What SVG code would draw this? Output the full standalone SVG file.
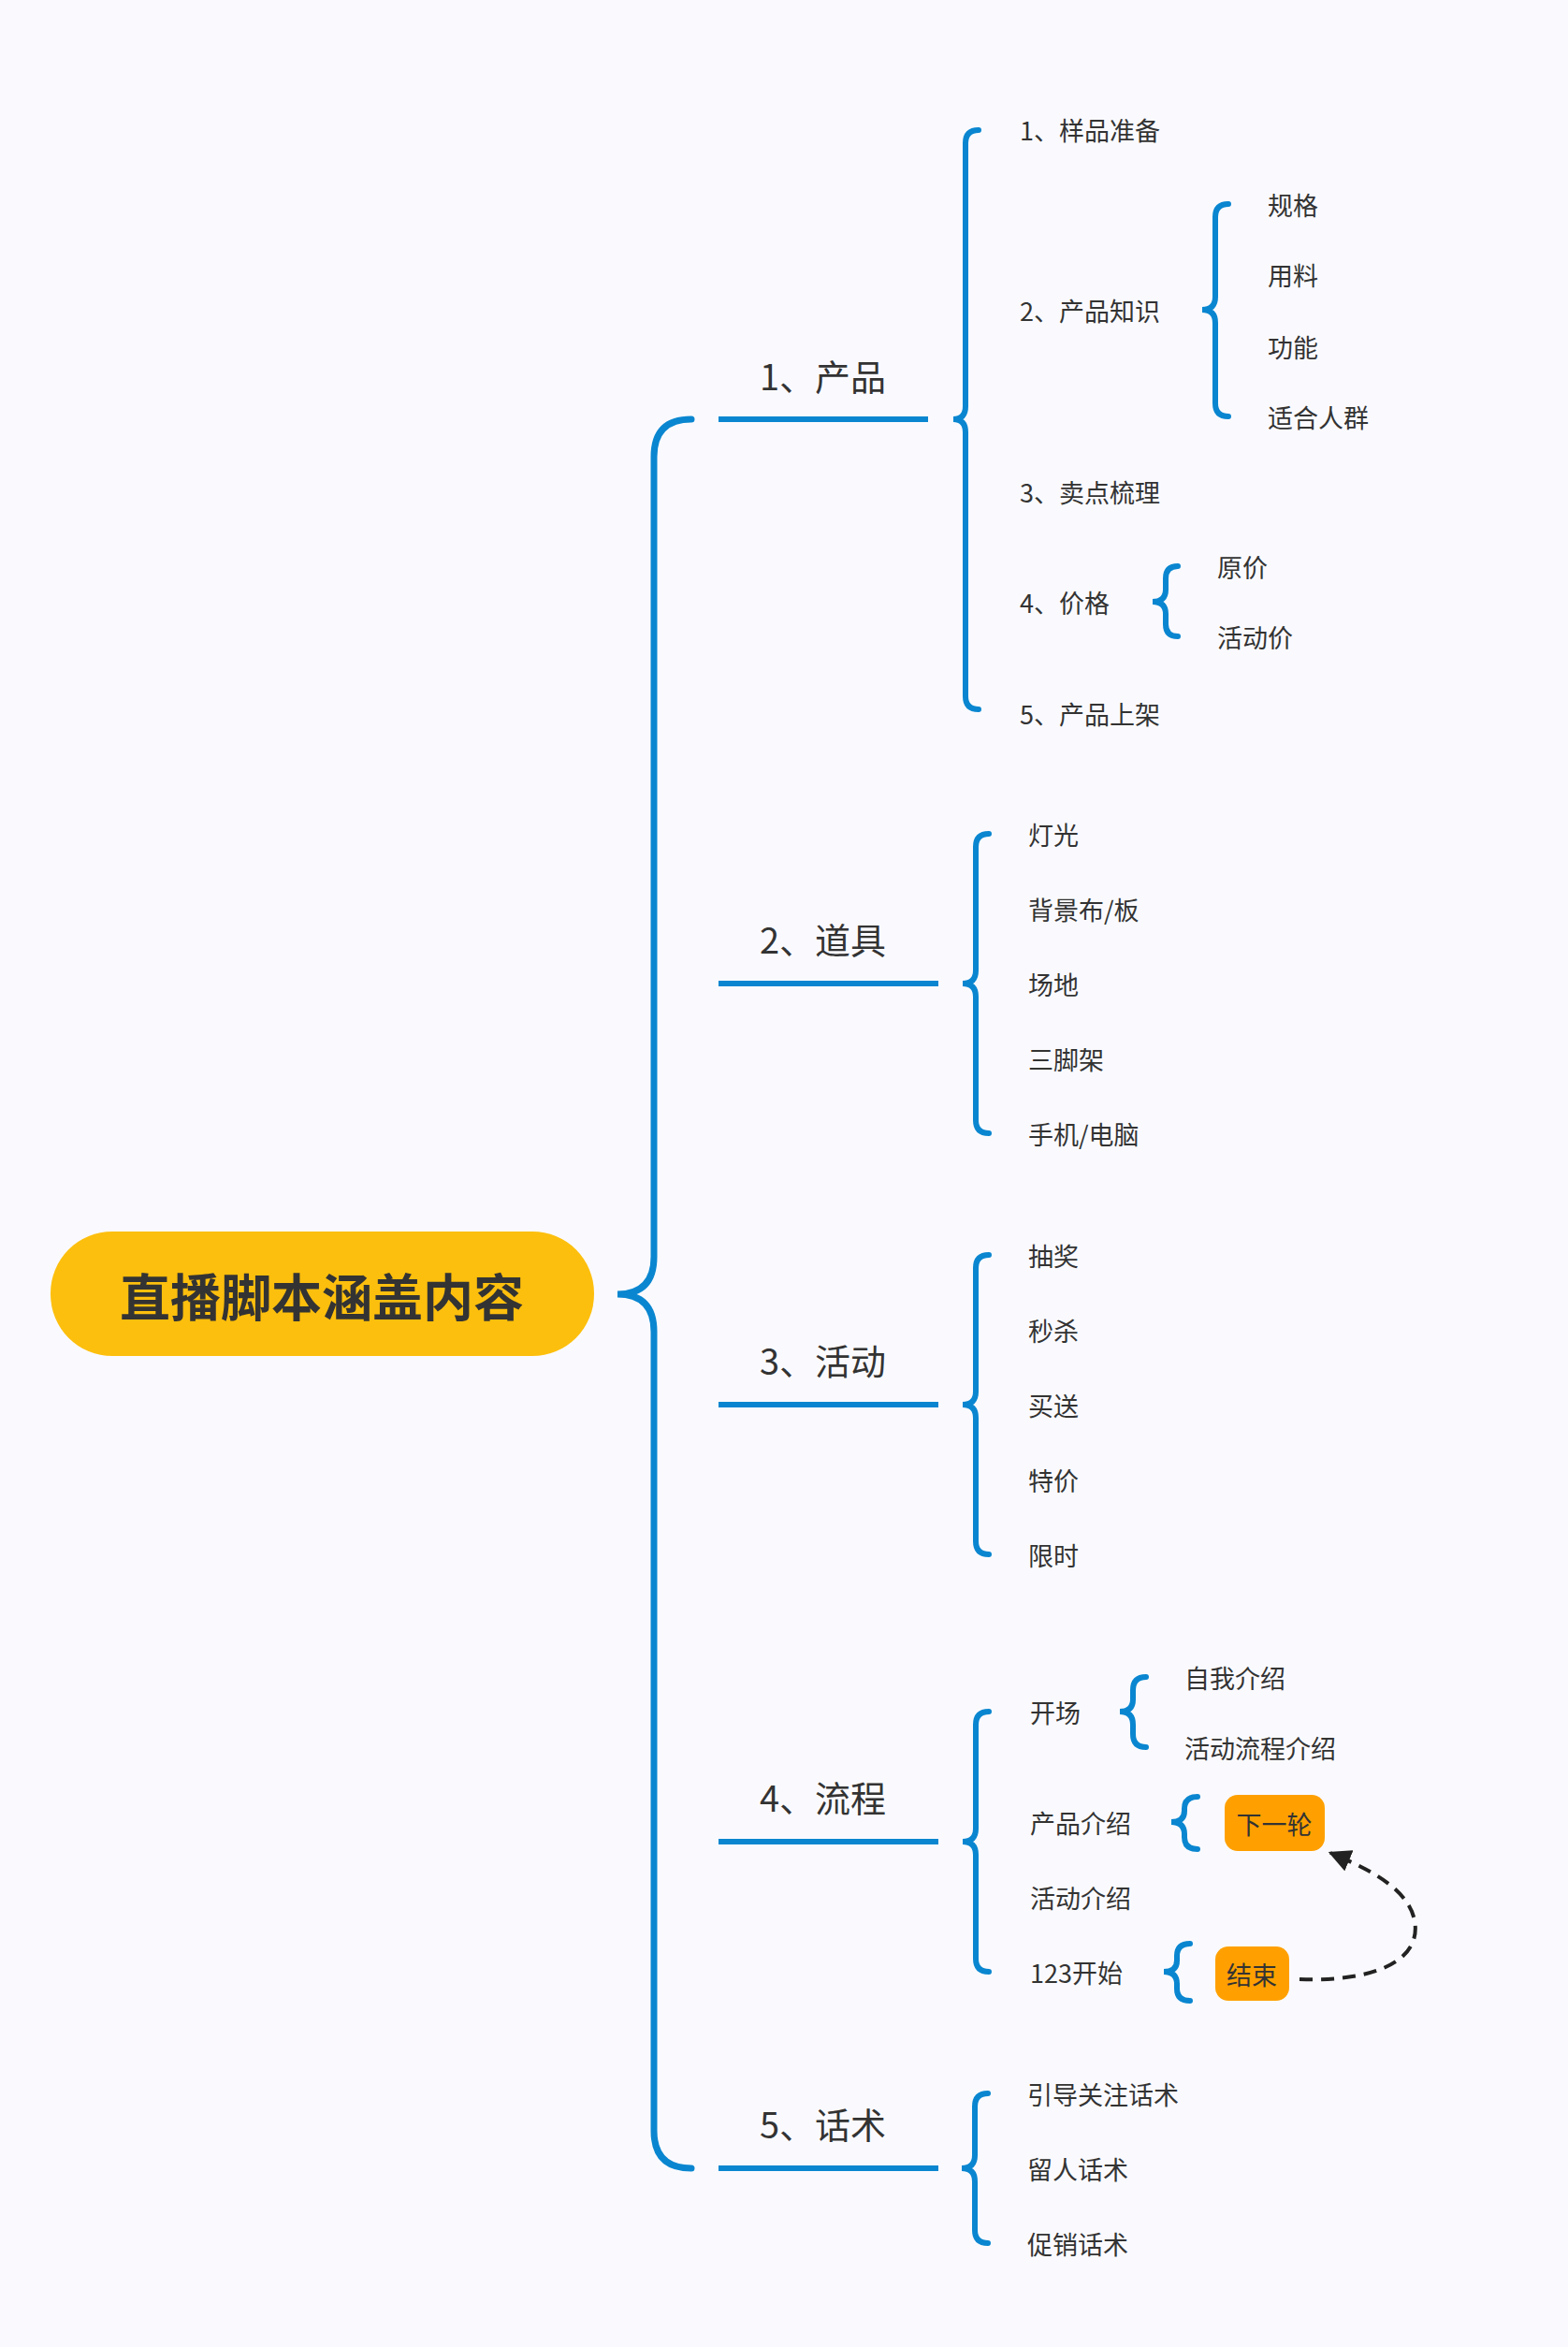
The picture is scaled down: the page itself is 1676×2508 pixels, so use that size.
<svg xmlns="http://www.w3.org/2000/svg" width="1676" height="2508" viewBox="0 0 1676 2508">
<defs>
<style>
text{font-family:"Noto Sans CJK SC","Noto Sans",sans-serif;fill:#333;dominant-baseline:central}
.l1{font-size:38px}
.l2{font-size:27px}
.br{fill:none;stroke:#0A86D0;stroke-width:6;stroke-linecap:round}
.ul{stroke:#0A86D0;stroke-width:6}
.tag{fill:#FFA000}
</style>
<marker id="ah" viewBox="0 0 10 10" refX="9" refY="5" markerWidth="6" markerHeight="6" orient="auto"><path d="M0 0L10 5L0 10z" fill="#222"/></marker>
</defs>
<rect width="1676" height="2508" fill="#FAFAFE"/>
<g id="connectors">
<path class="br" style="stroke-width:7" d="M739 448 Q699 448 699 488 L699 1343 Q699 1383 660 1383 Q699 1383 699 1423 L699 2277 Q699 2317 739 2317"/>
<line class="ul" x1="768" y1="448" x2="992" y2="448"/>
<line class="ul" x1="768" y1="1051" x2="1003" y2="1051"/>
<line class="ul" x1="768" y1="1501" x2="1003" y2="1501"/>
<line class="ul" x1="768" y1="1968" x2="1003" y2="1968"/>
<line class="ul" x1="768" y1="2317" x2="1003" y2="2317"/>
<path class="br" d="M1046 139 Q1032 139 1032 153 L1032 434 Q1032 448 1019 448 Q1032 448 1032 462 L1032 744 Q1032 758 1046 758"/>
<path class="br" d="M1313 218 Q1299 218 1299 232 L1299 317 Q1299 331 1285 331 Q1299 331 1299 345 L1299 431 Q1299 445 1313 445"/>
<path class="br" d="M1259 605 Q1246 605 1246 618 L1246 630 Q1246 643 1232 643 Q1246 643 1246 656 L1246 667 Q1246 680 1259 680"/>
<path class="br" d="M1057 891 Q1043 891 1043 905 L1043 1037 Q1043 1051 1029 1051 Q1043 1051 1043 1065 L1043 1197 Q1043 1211 1057 1211"/>
<path class="br" d="M1057 1341 Q1043 1341 1043 1355 L1043 1487 Q1043 1501 1029 1501 Q1043 1501 1043 1515 L1043 1647 Q1043 1661 1057 1661"/>
<path class="br" d="M1057 1829 Q1043 1829 1043 1843 L1043 1954 Q1043 1968 1029 1968 Q1043 1968 1043 1982 L1043 2093 Q1043 2107 1057 2107"/>
<path class="br" d="M1225 1792 Q1211 1792 1211 1806 L1211 1816 Q1211 1829 1197 1829 Q1211 1829 1211 1843 L1211 1853 Q1211 1867 1225 1867"/>
<path class="br" d="M1280 1920 Q1266 1920 1266 1933 L1266 1935 Q1266 1947 1252 1947 Q1266 1947 1266 1960 L1266 1963 Q1266 1976 1280 1976"/>
<path class="br" d="M1272 2077 Q1258 2077 1258 2090 L1258 2095 Q1258 2107 1244 2107 Q1258 2107 1258 2120 L1258 2125 Q1258 2138 1272 2138"/>
<path class="br" d="M1056 2237 Q1042 2237 1042 2251 L1042 2303 Q1042 2317 1028 2317 Q1042 2317 1042 2331 L1042 2383 Q1042 2397 1056 2397"/>
<path d="M1389 2115 C1470 2118 1520 2095 1512 2052 C1505 2020 1470 2000 1422 1980" fill="none" stroke="#222" stroke-width="4" stroke-dasharray="14 9" marker-end="url(#ah)"/>
</g>
<g id="root"><rect x="54" y="1316" width="581" height="133" rx="66" fill="#FDBF0D"/><text x="344" y="1383" text-anchor="middle" style="font-size:54px;font-weight:bold">直播脚本涵盖内容</text></g>
<g id="n1"><text class="l1" x="812" y="400">1、产品</text></g>
<g id="n2"><text class="l1" x="812" y="1002">2、道具</text></g>
<g id="n3"><text class="l1" x="812" y="1452">3、活动</text></g>
<g id="n4"><text class="l1" x="812" y="1919">4、流程</text></g>
<g id="n5"><text class="l1" x="812" y="2268">5、话术</text></g>
<g id="p"><text class="l2" x="1090" y="138">1、样品准备</text><text class="l2" x="1090" y="331">2、产品知识</text><text class="l2" x="1090" y="525">3、卖点梳理</text><text class="l2" x="1090" y="643">4、价格</text><text class="l2" x="1090" y="762">5、产品上架</text>
<text class="l2" x="1355" y="218">规格</text><text class="l2" x="1355" y="293">用料</text><text class="l2" x="1355" y="370">功能</text><text class="l2" x="1355" y="445">适合人群</text>
<text class="l2" x="1301" y="605">原价</text><text class="l2" x="1301" y="680">活动价</text></g>
<g id="d"><text class="l2" x="1099" y="891">灯光</text><text class="l2" x="1099" y="971">背景布/板</text><text class="l2" x="1099" y="1051">场地</text><text class="l2" x="1099" y="1131">三脚架</text><text class="l2" x="1099" y="1211">手机/电脑</text></g>
<g id="a"><text class="l2" x="1099" y="1341">抽奖</text><text class="l2" x="1099" y="1421">秒杀</text><text class="l2" x="1099" y="1501">买送</text><text class="l2" x="1099" y="1581">特价</text><text class="l2" x="1099" y="1661">限时</text></g>
<g id="f"><text class="l2" x="1101" y="1829">开场</text><text class="l2" x="1101" y="1947">产品介绍</text><text class="l2" x="1101" y="2027">活动介绍</text><text class="l2" x="1101" y="2107">123开始</text>
<text class="l2" x="1266" y="1792">自我介绍</text><text class="l2" x="1266" y="1867">活动流程介绍</text></g>
<g id="next"><rect class="tag" x="1309" y="1918" width="107" height="60" rx="14"/><text class="l2" x="1362" y="1948" text-anchor="middle">下一轮</text></g>
<g id="end"><rect class="tag" x="1299" y="2080" width="79" height="58" rx="14"/><text class="l2" x="1338" y="2109" text-anchor="middle">结束</text></g>
<g id="t"><text class="l2" x="1098" y="2237">引导关注话术</text><text class="l2" x="1098" y="2317">留人话术</text><text class="l2" x="1098" y="2397">促销话术</text></g>
</svg>
